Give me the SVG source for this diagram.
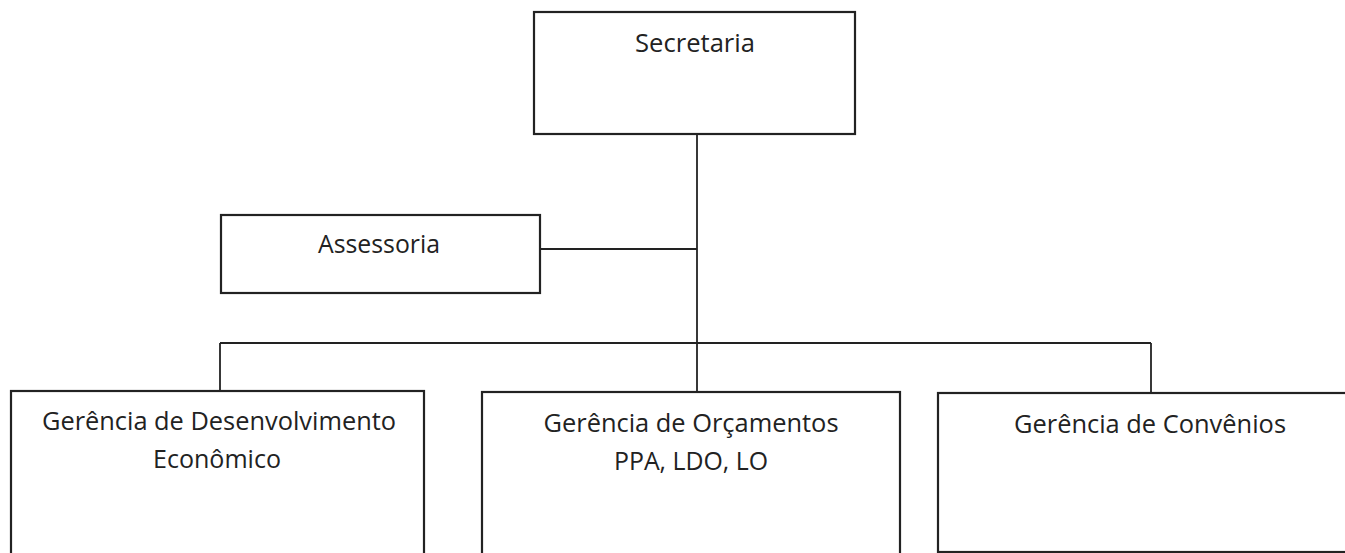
<svg xmlns="http://www.w3.org/2000/svg" width="1345" height="553" viewBox="0 0 1345 553">
<style>
.box{fill:#fff;stroke:#222;stroke-width:2.2}
.ln{fill:none;stroke:#222;stroke-width:1.8}
.t{font-family:"Open Sans","Noto Sans",sans-serif;font-size:25px;fill:#222;text-anchor:middle}
</style>
<rect width="1345" height="553" fill="#fff"/>
<g id="connectors">
<line class="ln" x1="697" y1="134" x2="697" y2="392"/>
<line class="ln" x1="540" y1="249" x2="697" y2="249"/>
<line class="ln" x1="220" y1="343" x2="1151" y2="343"/>
<line class="ln" x1="220" y1="343" x2="220" y2="391"/>
<line class="ln" x1="1151" y1="343" x2="1151" y2="393"/>
</g>
<g id="secretaria">
<rect class="box" x="534" y="12" width="321" height="122"/>
<text class="t" x="695" y="52" textLength="120" lengthAdjust="spacingAndGlyphs">Secretaria</text>
</g>
<g id="assessoria">
<rect class="box" x="221" y="215" width="319" height="78"/>
<text class="t" x="379" y="253" textLength="122" lengthAdjust="spacingAndGlyphs">Assessoria</text>
</g>
<g id="ger-desenvolvimento">
<rect class="box" x="11" y="391" width="413" height="180"/>
<text class="t" x="219" y="430" textLength="354" lengthAdjust="spacingAndGlyphs">Gerência de Desenvolvimento</text>
<text class="t" x="217" y="468" textLength="128" lengthAdjust="spacingAndGlyphs">Econômico</text>
</g>
<g id="ger-orcamentos">
<rect class="box" x="482" y="392" width="418" height="180"/>
<text class="t" x="691" y="432" textLength="295" lengthAdjust="spacingAndGlyphs">Gerência de Orçamentos</text>
<text class="t" x="691" y="470" textLength="154" lengthAdjust="spacingAndGlyphs">PPA, LDO, LO</text>
</g>
<g id="ger-convenios">
<rect class="box" x="938" y="393" width="420" height="159"/>
<text class="t" x="1150" y="433" textLength="272" lengthAdjust="spacingAndGlyphs">Gerência de Convênios</text>
</g>
</svg>
